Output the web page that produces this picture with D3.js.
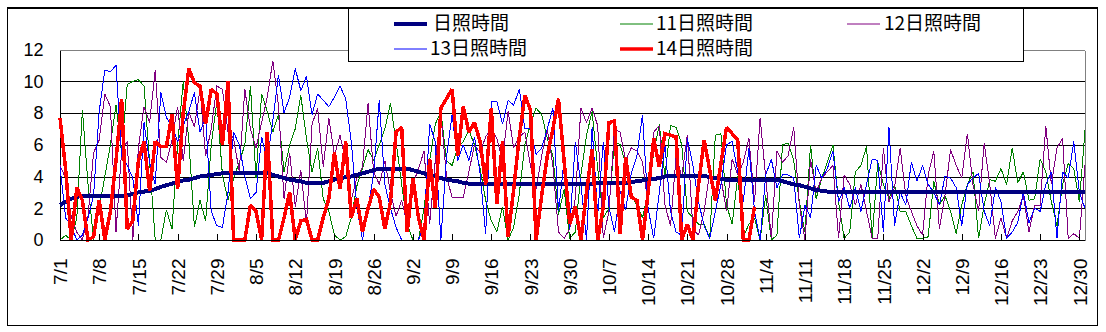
<!DOCTYPE html>
<html>
<head>
<meta charset="utf-8">
<script src="https://cdn.jsdelivr.net/npm/d3@7"></script>
<style>
  html, body { margin: 0; padding: 0; background: #fff; }
  svg { display: block; }
</style>
</head>
<body>
<svg id="chart" width="1106" height="332"></svg>
<script>
// Days from 7/1 to 12/31
const days = d3.utcDay.range(Date.UTC(2001, 6, 1), Date.UTC(2002, 0, 1));
const categories = days.map(d => `${d.getUTCMonth() + 1}/${d.getUTCDate()}`);
const tickLabels = categories.filter((c, i) => i % 7 === 0);
const yTicks = [0, 2, 4, 6, 8, 10, 12];

// 日照時間 (mean sunshine hours)
const sunAvg = [
  2.2,2.4,2.6,2.7,2.8,2.8,2.8,2.8,2.8,2.8,
  2.8,2.8,2.8,2.9,3.0,3.05,3.1,3.2,3.35,3.45,
  3.55,3.65,3.75,3.8,3.9,4.0,4.05,4.1,4.15,4.2,
  4.25,4.25,4.25,4.25,4.25,4.25,4.25,4.2,4.1,4.0,
  3.9,3.8,3.75,3.7,3.6,3.6,3.6,3.6,3.7,3.8,
  3.9,3.95,4.0,4.1,4.2,4.3,4.4,4.5,4.5,4.5,
  4.5,4.5,4.5,4.4,4.3,4.2,4.1,4.0,3.9,3.8,
  3.75,3.7,3.6,3.55,3.5,3.5,3.5,3.5,3.5,3.5,
  3.5,3.5,3.5,3.5,3.5,3.5,3.5,3.5,3.5,3.5,
  3.5,3.5,3.5,3.5,3.55,3.55,3.6,3.6,3.6,3.6,
  3.6,3.6,3.65,3.7,3.75,3.8,3.85,3.9,4.0,4.05,
  4.05,4.05,4.05,4.05,4.05,4.05,3.95,3.9,3.85,3.8,
  3.8,3.8,3.8,3.8,3.8,3.8,3.8,3.8,3.8,3.7,
  3.6,3.5,3.45,3.35,3.25,3.15,3.1,3.05,3.0,3.0,
  3.0,3.0,3.0,3.0,3.0,3.0,3.0,3.0,3.0,3.0,
  3.05,3.05,3.05,3.05,3.05,3.05,3.05,3.05,3.05,3.05,
  3.05,3.05,3.05,3.05,3.05,3.05,3.05,3.05,3.05,3.05,
  3.05,3.0,3.0,3.0,3.0,3.0,3.0,3.0,3.0,3.0,
  3.0,3.0,3.0,3.0
];

// 11日照時間
const sun11 = [
  0,0.3,0,1.4,8.2,3.5,0,2.0,4.0,6.0,
  8.5,5.5,9.8,10.0,10.1,9.7,4.9,0,0,1.9,
  0.7,6.0,10.0,6.3,0.8,2.5,1.2,6.0,8.7,4.1,
  2.5,3.9,4.9,6.0,9.7,3.9,9.2,8.1,6.8,7.9,
  4.3,6.0,7.0,9.1,6.4,4.3,5.8,2.6,1.8,0.3,
  0,0.2,1.4,3.4,4.5,5.7,5.0,6.0,7.0,8.6,
  6.2,3.5,1.0,0,0,2.0,5.0,7.3,8.1,5.0,
  4.7,5.8,6.2,6.9,6.0,4.5,2.5,1.2,0.5,2.1,
  0,0.8,2.9,6.0,7.3,8.3,7.9,6.4,5.3,1.6,
  3.2,0.1,0.5,4.1,6.6,8.1,4.5,1.4,2.0,6.2,
  6.0,4.8,2.8,2.2,1.4,3.0,5.5,7.3,4.0,7.2,
  7.1,6.0,1.8,1.4,1.0,1.0,0.1,6.6,6.7,2.2,
  1.0,4.0,0.2,1.0,1.4,0,2.8,0,0.3,6.0,
  6.1,5.0,2.4,0.5,6.0,2.6,3.9,4.9,6.0,2.4,
  0.1,0.5,4.3,4.7,5.9,0.1,4.9,3.5,2.6,3.5,
  1.8,1.8,0.9,0.1,0.1,0.2,3.7,2.2,2.8,1.8,
  0.4,2.2,3.5,4.3,0.1,2.2,3.8,3.7,4.5,3.5,
  5.8,3.6,4.3,2.5,2.6,5.1,4.3,2.4,0.9,3.5,
  4.8,4.5,2.4,6.9
];

// 12日照時間
const sun12 = [
  4.7,3.9,1.5,0.5,0,1.5,5.5,6.3,9.2,8.4,
  0.5,5.6,6.2,0,5.8,8.4,7.4,10.7,5.2,4.9,
  6.3,8.4,5.0,8.1,7.1,9.5,5.3,7.0,9.7,9.5,
  6.8,6.4,4.3,9.5,7.0,5.8,7.4,9.0,11.3,8.5,
  2.6,5.5,2.1,4.4,1.0,7.3,8.3,4.6,7.7,5.3,
  6.6,5.0,2.5,3.9,4.6,8.6,4.3,3.5,5.0,3.0,
  1.5,2.5,1.0,3.5,4.5,5.6,1.0,5.0,8.0,4.0,
  2.7,2.7,2.7,4.3,6.0,5.5,6.5,7.0,6.4,5.0,
  8.1,5.8,6.5,6.8,4.7,3.2,5.3,7.0,4.7,0.5,
  0.1,0.7,2.6,8.3,7.4,8.3,7.2,0.1,1.8,7.0,
  6.8,5.0,5.8,5.6,4.9,2.2,6.8,7.2,2.2,0.9,
  5.3,4.0,6.6,0.7,0.3,1.8,4.3,2.8,3.9,1.8,
  5.1,4.1,4.9,6.4,2.4,7.7,3.9,0.1,5.6,4.9,
  5.3,7.1,2.2,0,5.1,3.0,3.9,4.3,4.7,0.1,
  4.1,3.5,2.2,3.5,1.8,0.1,0.1,5.8,2.4,3.3,
  5.8,2.8,1.8,0.9,0.3,4.1,5.6,0.7,2.8,5.7,
  4.7,3.9,6.7,3.5,1.8,6.1,3.5,0.1,1.4,0.1,
  1.2,1.8,2.8,0.5,2.2,2.2,7.2,3.5,5.8,6.4,
  0.1,0.4,0.1,4.7
];

// 13日照時間
const sun13 = [
  4.6,1.4,0.9,0,0.3,1.4,2.8,8.1,10.7,10.6,
  11.0,5.3,4.7,3.9,0.9,7.4,4.9,3.5,9.3,7.7,
  7.2,6.2,7.2,8.1,9.3,6.8,7.7,1.8,0.9,0.8,
  3.0,6.8,6.0,4.0,2.6,3.0,6.5,5.0,7.5,10.4,
  8.0,9.0,10.8,9.4,10.3,7.9,9.2,8.8,8.4,9.0,
  9.7,8.9,6.2,2.1,0,2.0,4.2,8.8,3.5,2.0,
  0.8,0,0,0,0,1.0,7.3,6.2,0,5.2,
  7.9,5.0,6.0,5.0,6.5,4.2,0.4,8.7,8.7,7.3,
  8.8,8.5,9.5,7.0,7.0,5.4,5.8,7.0,8.3,1.8,
  5.0,0.7,6.2,3.5,0,7.1,1.6,6.2,2.1,0.5,
  3.1,1.9,4.2,5.3,7.9,2.0,0.1,3.0,6.0,1.8,
  0.5,0.3,6.4,4.7,2.4,0.9,0.1,1.8,3.5,6.0,
  6.2,4.3,2.4,5.8,1.8,0,4.1,5.1,3.3,4.1,
  4.1,3.9,0.1,2.2,1.4,4.7,3.9,4.5,5.6,2.4,
  3.3,2.0,3.3,1.8,3.5,5.1,5.0,0.5,7.1,0.9,
  3.0,2.2,4.9,3.7,4.7,3.5,3.0,2.2,4.0,3.9,
  3.3,0.9,3.5,3.9,4.2,1.8,0.9,3.3,2.4,0.1,
  0.5,1.1,3.0,1.1,2.0,1.8,3.5,4.3,0.1,4.3,
  3.9,6.2,3.0,2.0
];

// 14日照時間 (recorded through 11/2)
const sun14 = [
  7.7,4.5,0,3.3,2.5,0,0.2,2.5,0,1.8,
  5.0,8.9,0.7,1.2,5.0,6.2,3.1,6.2,5.9,5.9,
  7.9,3.2,8.0,10.8,9.9,9.7,7.3,9.5,9.2,6.0,
  10.0,0,0,0,2.2,1.8,0,6.8,0,0,
  1.4,3.0,0,1.2,1.3,0,0,1.4,2.6,5.5,
  3.2,6.2,1.4,2.6,0.5,2.0,3.2,2.7,0.7,2.4,
  6.8,7.1,0.5,3.9,1.4,0,5.1,2.0,8.3,8.9,
  9.5,5.3,8.4,6.8,7.4,6.2,3.5,8.3,2.3,6.2,
  0.2,3.2,6.5,9.1,8.2,0,2.8,5.3,7.0,8.9,
  5.0,1.0,2.1,0,3.0,5.7,0,2.1,7.4,7.5,
  0.4,5.2,2.7,2.5,0,3.0,6.4,4.6,6.7,6.6,
  6.5,0,1.0,0,3.5,6.3,4.4,2.5,4.8,7.1,
  6.7,6.3,0,0,2.1
];

const seriesNames = ["日照時間", "11日照時間", "12日照時間", "13日照時間", "14日照時間"];
const seriesColors = ["#000080", "#008000", "#800080", "#0000ff", "#ff0000"];
const seriesWidths = [4, 1, 1, 1, 3.5];
const seriesValues = [sunAvg, sun11, sun12, sun13, sun14];

const svg = d3.select("#chart");
const plot = { left: 60, right: 1085, top: 49.5, bottom: 240 };

const x = d3.scalePoint().domain(categories).range([plot.left, plot.right]).padding(0);
const y = d3.scaleLinear().domain([0, 12]).range([plot.bottom, plot.top]);
const snap = v => Math.round(v) + 0.5;

// outer chart frame
svg.append("rect")
  .attr("x", 7.5).attr("y", 7.5).attr("width", 1090).attr("height", 318)
  .attr("fill", "#fff").attr("stroke", "#000").attr("stroke-width", 1);
svg.append("line")
  .attr("x1", 7).attr("x2", 1098).attr("y1", 8).attr("y2", 8)
  .attr("stroke", "#000").attr("stroke-width", 2);

// horizontal gridlines
const grid = svg.append("g").attr("shape-rendering", "crispEdges");
grid.selectAll("line.grid")
  .data(yTicks.filter(v => v > 0))
  .join("line")
  .attr("x1", plot.left).attr("x2", plot.right)
  .attr("y1", d => snap(y(d))).attr("y2", d => snap(y(d)))
  .attr("stroke", d => d === 12 ? "#808080" : "#000")
  .attr("stroke-width", 1);
// right border of plot area
grid.append("line")
  .attr("x1", snap(plot.right)).attr("x2", snap(plot.right))
  .attr("y1", snap(y(12))).attr("y2", snap(y(0)))
  .attr("stroke", "#808080");

// y axis
const yAxis = svg.append("g")
  .attr("transform", `translate(${snap(plot.left)},0)`)
  .call(d3.axisLeft(y).tickValues(yTicks).tickSize(0).tickPadding(17).tickFormat(d3.format("d")));
yAxis.select(".domain").attr("stroke", "#000").attr("shape-rendering", "crispEdges")
  .attr("d", `M0,${snap(y(12))}V${snap(y(0))}`);
yAxis.selectAll("text")
  .attr("font-family", "'Liberation Sans', Arial, sans-serif")
  .attr("font-size", 18).attr("fill", "#000");

// data series
const line = d3.line()
  .defined(d => d != null)
  .x((d, i) => x(categories[i]))
  .y(d => y(d));

const order = [1, 2, 3, 0, 4];
svg.append("g").selectAll("path")
  .data(order)
  .join("path")
  .attr("d", k => line(seriesValues[k]))
  .attr("fill", "none")
  .attr("stroke", k => seriesColors[k])
  .attr("stroke-width", k => seriesWidths[k])
  .attr("stroke-linejoin", "miter")
  .attr("stroke-miterlimit", 2)
  .attr("shape-rendering", "crispEdges");

// x axis
const xAxis = svg.append("g")
  .attr("transform", `translate(0,${snap(y(0))})`)
  .call(d3.axisBottom(x).tickValues(tickLabels).tickSize(-7).tickPadding(0));
xAxis.select(".domain").attr("stroke", "#000").attr("shape-rendering", "crispEdges")
  .attr("d", `M${plot.left},0H${plot.right}`);
xAxis.selectAll(".tick line").attr("stroke", "#000").attr("shape-rendering", "crispEdges");
xAxis.selectAll(".tick text")
  .attr("font-family", "'Liberation Sans', Arial, sans-serif")
  .attr("font-size", 19).attr("fill", "#000")
  .attr("text-anchor", "end")
  .attr("y", 0).attr("dy", "0.35em")
  .attr("transform", "translate(0,18) rotate(-90)");

// legend
const legend = svg.append("g");
legend.append("rect")
  .attr("x", 348.5).attr("y", 8.5).attr("width", 675).attr("height", 53)
  .attr("fill", "#fff").attr("stroke", "#000").attr("stroke-width", 1);

const legendPos = [
  { lx: 394, tx: 433, y: 23.5 },
  { lx: 620, tx: 656, y: 23.5 },
  { lx: 847, tx: 884, y: 23.5 },
  { lx: 394, tx: 430, y: 48.5 },
  { lx: 620, tx: 656, y: 48.5 }
];
const items = legend.selectAll("g.item")
  .data(seriesNames.map((name, k) => ({ name, k, ...legendPos[k] })))
  .join("g").attr("class", "item");
items.append("line")
  .attr("x1", d => d.lx).attr("x2", d => d.lx + 33)
  .attr("y1", d => d.y + 0.5).attr("y2", d => d.y + 0.5)
  .attr("stroke", d => seriesColors[d.k])
  .attr("stroke-width", d => seriesWidths[d.k]);
items.append("text")
  .attr("x", d => d.tx).attr("y", d => d.y)
  .attr("dy", "0.36em")
  .attr("font-family", "'Noto Sans CJK JP', sans-serif")
  .attr("font-size", 19)
  .attr("fill", "#000")
  .text(d => d.name);
</script>
</body>
</html>
